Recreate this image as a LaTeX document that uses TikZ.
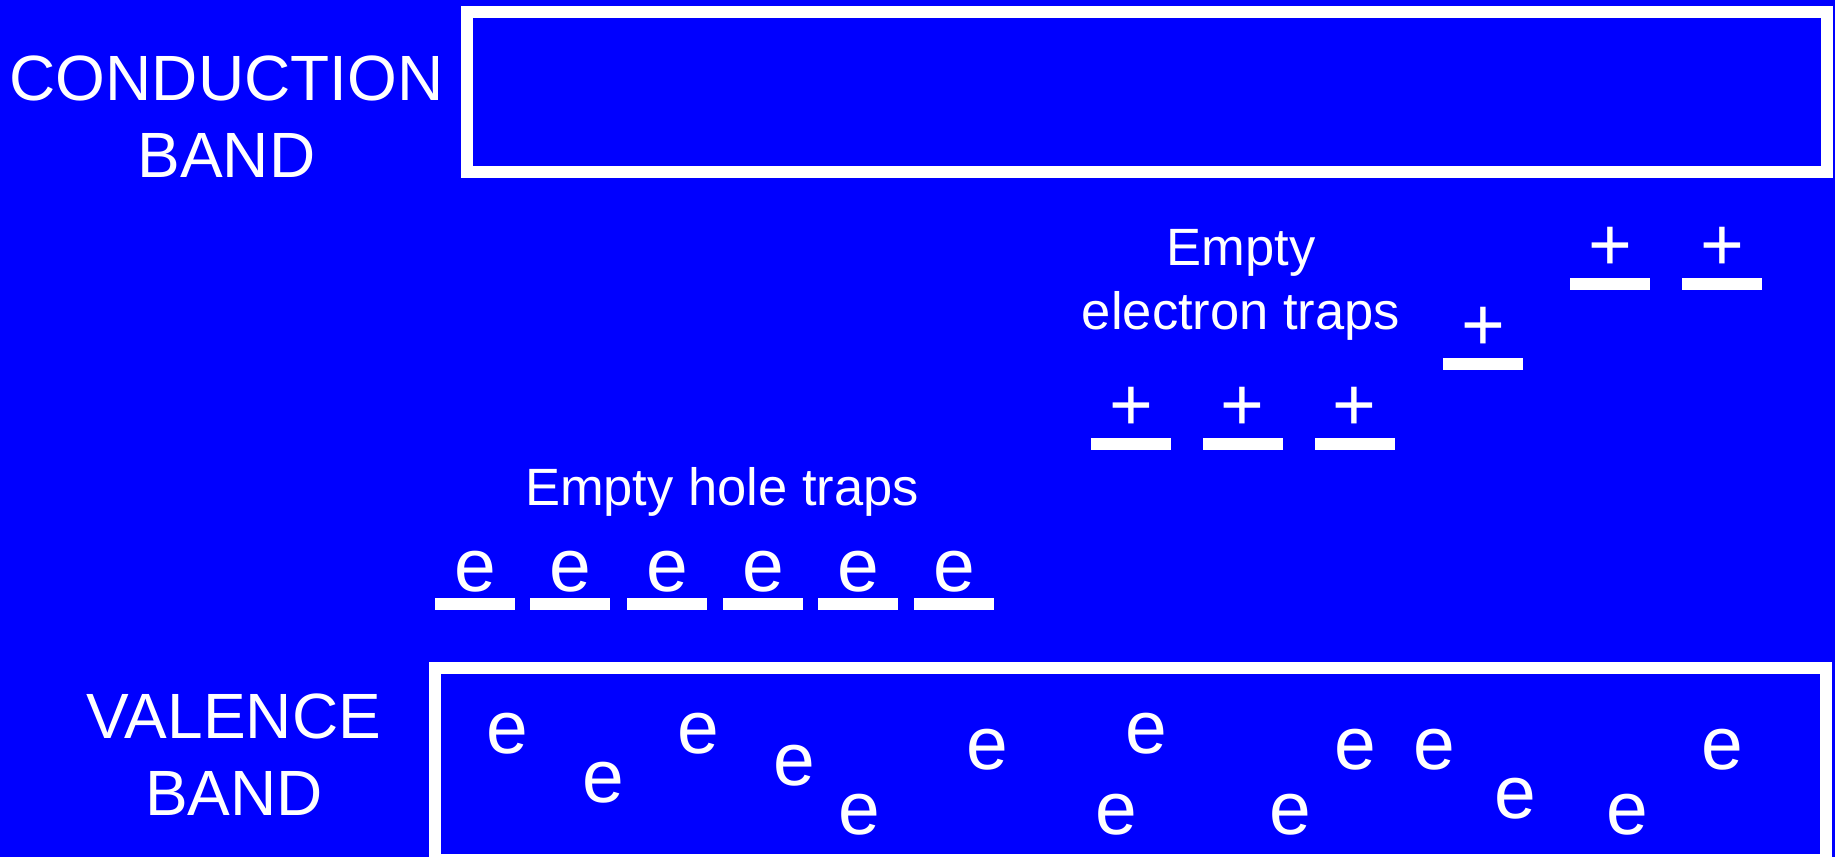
\documentclass[tikz,border=0pt]{standalone}
\usepackage{fontspec}
\setmainfont{Liberation Sans}
\usepackage{xcolor}
\usepackage{tikz}
\usetikzlibrary{positioning}
\definecolor{bgc}{HTML}{0000FF}
\tikzset{
  band/.style={draw=white,line width=12pt},
  lvl/.style={fill=white,minimum width=80pt,minimum height=12pt,inner sep=0pt},
  lbl/.style={text=white,align=center,inner sep=0pt,font=\fontsize{64}{77}\selectfont},
  note/.style={text=white,align=center,inner sep=0pt,font=\fontsize{52.5}{64}\selectfont},
  chg/.style={text=white,inner sep=0pt,anchor=base,font=\fontsize{75}{80}\selectfont}
}
\begin{document}
\begin{tikzpicture}[x=1pt,y=-1pt]
\useasboundingbox (0,0) rectangle (1835,857);
\fill[bgc] (0,0) rectangle (1835,857);
% bands
\draw[band] (467,12) rectangle (1827,172);
\draw[band] (435,668) rectangle (1826,860);
\node[lbl] (cbl) at (226.5,117) {CONDUCTION\\BAND};
\node[lbl] (vbl) at (234,755) {VALENCE\\BAND};
% hole traps, filled with electrons
\node[note,anchor=base] (htl) at (722,505) {Empty hole traps};
\node[lvl] (h1) at (475,604) {}; \node[chg] (he1) at ([yshift=6pt]h1.north) {e};
\node[lvl] (h2) at (570,604) {}; \node[chg] (he2) at ([yshift=6pt]h2.north) {e};
\node[lvl] (h3) at (667,604) {}; \node[chg] (he3) at ([yshift=6pt]h3.north) {e};
\node[lvl] (h4) at (763,604) {}; \node[chg] (he4) at ([yshift=6pt]h4.north) {e};
\node[lvl] (h5) at (858,604) {}; \node[chg] (he5) at ([yshift=6pt]h5.north) {e};
\node[lvl] (h6) at (954,604) {}; \node[chg] (he6) at ([yshift=6pt]h6.north) {e};
% electron traps, left with holes
\node[note] (etl) at (1241,285) {Empty\\electron traps};
\node[lvl] (t1) at (1131,444) {}; \node[chg] (tp1) at ([yshift=7pt]t1.north) {+};
\node[lvl] (t2) at (1242.5,444) {}; \node[chg] (tp2) at ([yshift=7pt]t2.north) {+};
\node[lvl] (t3) at (1354.5,444) {}; \node[chg] (tp3) at ([yshift=7pt]t3.north) {+};
\node[lvl] (t4) at (1483,364) {}; \node[chg] (tp4) at ([yshift=7pt]t4.north) {+};
\node[lvl] (t5) at (1610,284) {}; \node[chg] (tp5) at ([yshift=7pt]t5.north) {+};
\node[lvl] (t6) at (1722,284) {}; \node[chg] (tp6) at ([yshift=7pt]t6.north) {+};
% electrons in the valence band
\node[chg] (v1) at (507,753) {e};  \node[chg] (v2) at (603,802) {e};
\node[chg] (v3) at (698,753) {e};  \node[chg] (v4) at (794,785) {e};
\node[chg] (v5) at (859,834) {e};  \node[chg] (v6) at (987,769) {e};
\node[chg] (v7) at (1116,834) {e}; \node[chg] (v8) at (1146,753) {e};
\node[chg] (v9) at (1290,834) {e}; \node[chg] (v10) at (1355,769) {e};
\node[chg] (v11) at (1434,769) {e}; \node[chg] (v12) at (1515,818) {e};
\node[chg] (v13) at (1627,834) {e}; \node[chg] (v14) at (1722,769) {e};
\end{tikzpicture}
\end{document}
